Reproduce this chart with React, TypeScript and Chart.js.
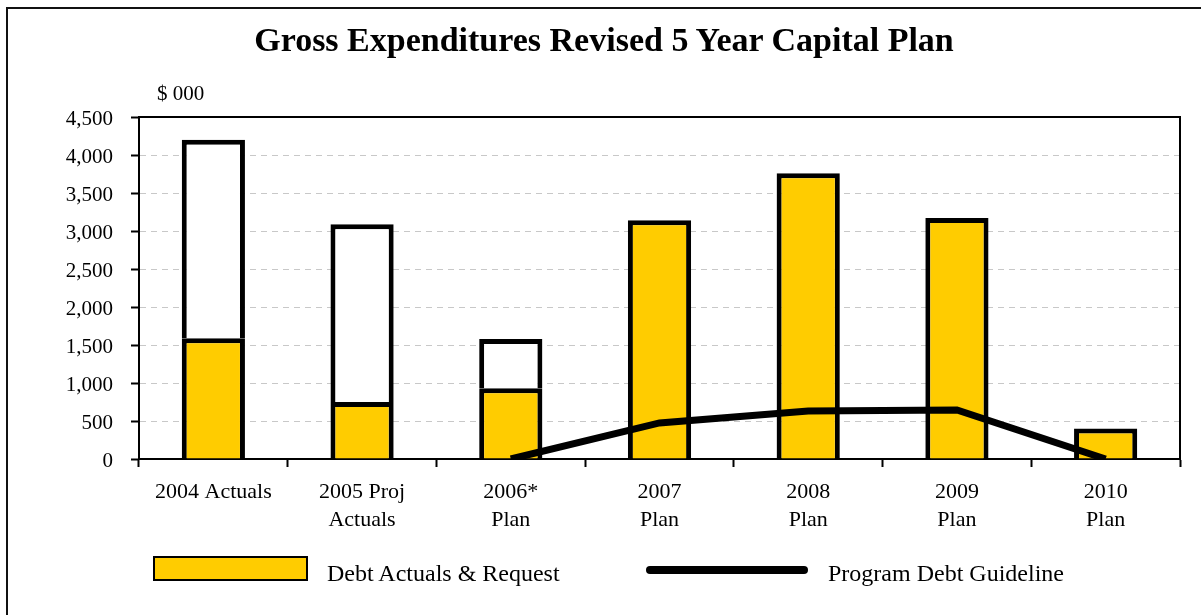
import React, { useEffect, useRef } from "react";
import { Chart, registerables } from "chart.js";

Chart.register(...registerables);

const categories: string[][] = [
  ["2004 Actuals"],
  ["2005 Proj", "Actuals"],
  ["2006*", "Plan"],
  ["2007", "Plan"],
  ["2008", "Plan"],
  ["2009", "Plan"],
  ["2010", "Plan"],
];
const debtValues: (number | null)[] = [1590, 750, 930, 3140, 3760, 3170, 400];
const otherValues: (number | null)[] = [2610, 2340, 650, null, null, null, null];
const guidelineValues: (number | null)[] = [null, null, 0, 475, 632, 645, 0];
const yMin = 0;
const yMax = 4500;
const yStep = 500;

const TITLE = "Gross Expenditures Revised 5 Year Capital Plan";
const UNIT = "$ 000";
const DEBT_LABEL = "Debt Actuals & Request";
const GUIDE_LABEL = "Program Debt Guideline";

const SERIF = '"Liberation Serif", "Times New Roman", serif';
const YELLOW = "#FFCC00";

const framePlugin = {
  id: "plotFrame",
  beforeDatasetsDraw(chart: any) {
    const { ctx, chartArea } = chart;
    ctx.save();
    ctx.setLineDash([]);
    ctx.strokeStyle = "#000";
    ctx.lineWidth = 2;
    ctx.strokeRect(chartArea.left, chartArea.top, chartArea.right - chartArea.left, chartArea.bottom - chartArea.top);
    ctx.restore();
  },
};

export default function App() {
  const canvasRef = useRef<HTMLCanvasElement | null>(null);

  useEffect(() => {
    if (!canvasRef.current) return;
    const chart = new Chart(canvasRef.current, {
      type: "bar",
      data: {
        labels: categories as any,
        datasets: [
          {
            type: "line",
            label: GUIDE_LABEL,
            data: guidelineValues,
            borderColor: "#000",
            backgroundColor: "#000",
            borderWidth: 7,
            pointRadius: 0,
            tension: 0,
            stack: "line",
            order: 0,
            clip: 0,
          } as any,
          {
            type: "bar",
            label: DEBT_LABEL,
            data: debtValues,
            backgroundColor: YELLOW,
            borderColor: "#000",
            borderWidth: { top: 5, left: 5, right: 5, bottom: 0 },
            borderSkipped: false,
            stack: "bars",
            order: 1,
            barPercentage: 0.425,
            categoryPercentage: 1,
          } as any,
          {
            type: "bar",
            label: "Other",
            data: otherValues,
            backgroundColor: "#fff",
            borderColor: "#000",
            borderWidth: { top: 5, left: 5, right: 5, bottom: 0 },
            borderSkipped: false,
            stack: "bars",
            order: 1,
            barPercentage: 0.425,
            categoryPercentage: 1,
          } as any,
        ],
      },
      options: {
        responsive: false,
        animation: false,
        layout: { padding: { top: 117, right: 21, bottom: 0, left: 0 } },
        plugins: {
          legend: { display: false },
          tooltip: { enabled: false },
          title: { display: false },
        },
        scales: {
          x: {
            stacked: true,
            offset: true,
            grid: {
              offset: true,
              drawOnChartArea: false,
              drawTicks: true,
              tickLength: 8,
              tickColor: "#000",
              tickWidth: 2,
            },
            border: { display: true, color: "#000", width: 2 },
            ticks: {
              color: "#000",
              font: { family: SERIF, size: 22, lineHeight: 1.27 },
              padding: 11,
              maxRotation: 0,
              autoSkip: false,
            },
            afterFit(scale: any) {
              scale.height = 156;
            },
          },
          y: {
            stacked: true,
            min: yMin,
            max: yMax,
            ticks: {
              stepSize: yStep,
              color: "#000",
              font: { family: SERIF, size: 21 },
              padding: 18,
              labelOffset: 2,
              callback: (v: any) => Number(v).toLocaleString("en-US"),
            },
            grid: {
              color: (c: any) =>
                c.tick && (c.tick.value === yMin || c.tick.value === yMax) ? "rgba(0,0,0,0)" : "#c8c8c8",
              lineWidth: 1,
              drawTicks: true,
              tickLength: 8,
              tickColor: "#000",
              tickWidth: 2,
              tickBorderDash: [],
            } as any,
            border: { display: true, color: "#000", width: 2, dash: [6, 5] },
            afterFit(scale: any) {
              scale.width = 139;
            },
          },
        },
      },
      plugins: [framePlugin],
    } as any);
    return () => chart.destroy();
  }, []);

  return (
    <div
      style={{
        position: "absolute",
        left: 0,
        top: 0,
        width: 1201,
        height: 615,
        overflow: "hidden",
        background: "#fff",
        fontFamily: SERIF,
        color: "#000",
      }}
    >
      <div
        style={{
          position: "absolute",
          left: 6,
          top: 7,
          width: 1210,
          height: 640,
          border: "2px solid #111",
          boxSizing: "border-box",
        }}
      />
      <canvas ref={canvasRef} width={1201} height={615} style={{ position: "absolute", left: 0, top: 0 }} />
      <div
        style={{
          position: "absolute",
          left: 0,
          width: 1208,
          top: 17,
          textAlign: "center",
          fontWeight: "bold",
          fontSize: 34,
          lineHeight: "46px",
          whiteSpace: "nowrap",
        }}
      >
        {TITLE}
      </div>
      <div style={{ position: "absolute", left: 157, top: 80, fontSize: 21, lineHeight: "26px", whiteSpace: "nowrap" }}>
        {UNIT}
      </div>
      <div
        style={{
          position: "absolute",
          left: 153,
          top: 556,
          width: 155,
          height: 25,
          background: YELLOW,
          border: "2px solid #000",
          boxSizing: "border-box",
        }}
      />
      <div style={{ position: "absolute", left: 327, top: 558, fontSize: 24, lineHeight: "30px", whiteSpace: "nowrap" }}>
        {DEBT_LABEL}
      </div>
      <div
        style={{
          position: "absolute",
          left: 646,
          top: 566,
          width: 162,
          height: 8,
          background: "#000",
          borderRadius: 4,
        }}
      />
      <div style={{ position: "absolute", left: 828, top: 558, fontSize: 24, lineHeight: "30px", whiteSpace: "nowrap" }}>
        {GUIDE_LABEL}
      </div>
    </div>
  );
}
